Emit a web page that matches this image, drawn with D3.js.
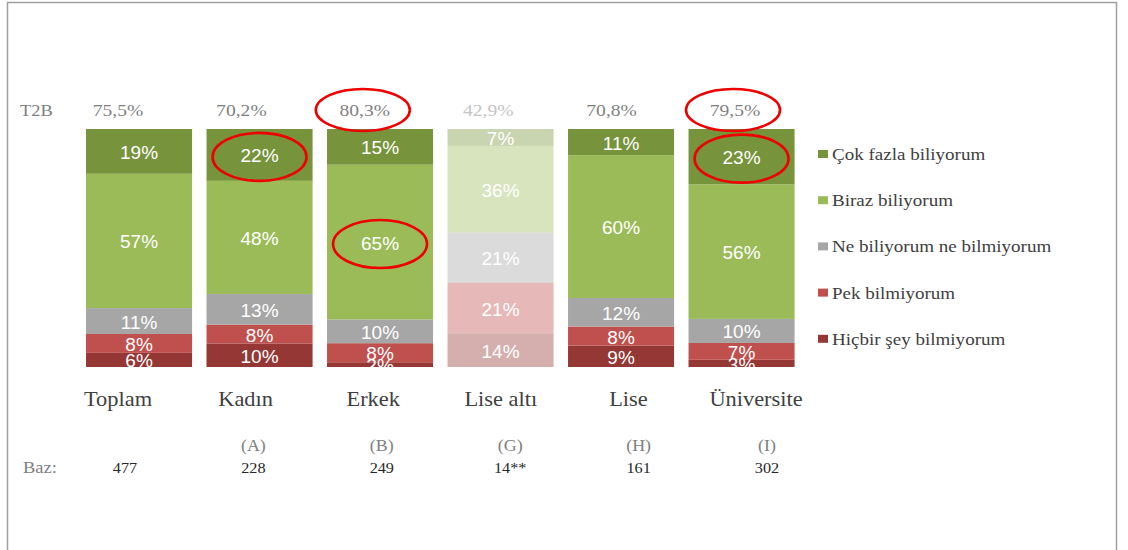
<!DOCTYPE html>
<html>
<head>
<meta charset="utf-8">
<script src="https://cdn.jsdelivr.net/npm/d3@7"></script>
<style>
  body { margin: 0; background: #fff; }
  svg { display: block; }
</style>
</head>
<body>
<svg width="1128" height="550"></svg>
<script>
// data
const categories = ['Toplam', 'Kadın', 'Erkek', 'Lise altı', 'Lise', 'Üniversite']
const groupLetters = ['', '(A)', '(B)', '(G)', '(H)', '(I)']
const baseCounts = [477, 228, 249, 14, 161, 302]
const t2b = [75.5, 70.2, 80.3, 42.9, 70.8, 79.5]

const seriesNames = ['Çok fazla biliyorum', 'Biraz biliyorum', 'Ne biliyorum ne bilmiyorum', 'Pek bilmiyorum', 'Hiçbir şey bilmiyorum']
const cokFazla = [19, 22, 15, 7, 11, 23]
const biraz = [57, 48, 65, 36, 60, 56]
const neNe = [11, 13, 10, 21, 12, 10]
const pek = [8, 8, 8, 21, 8, 7]
const hicbir = [6, 10, 2, 14, 9, 3]

// red hand-drawn circles: which labels got marked
const markedT2B = [2, 5]
const markedSegments = [[1, 'Çok fazla biliyorum'], [2, 'Biraz biliyorum'], [5, 'Çok fazla biliyorum']]

const lowBaseLimit = 30

var svg = d3.select('svg'),
  width = +svg.attr('width'),
  height = +svg.attr('height')

const serif = '"Liberation Serif", "Times New Roman", serif'
const sans = '"Liberation Sans", Arial, sans-serif'
const stretch = 1.12 // serif text in the picture is a bit wide

const colors = d3.scaleOrdinal()
  .domain(seriesNames)
  .range(['#77933c', '#9bbb59', '#a6a6a6', '#c0504d', '#953735'])

const valuesBySeries = [cokFazla, biraz, neNe, pek, hicbir]
const rows = categories.map((c, i) => {
  const row = {cat: c, i: i}
  const total = d3.sum(valuesBySeries, v => v[i])
  seriesNames.forEach((s, k) => { row[s] = valuesBySeries[k][i] / total; row['raw_' + s] = valuesBySeries[k][i] })
  return row
})

// stack bottom -> top
const stack = d3.stack().keys(seriesNames.slice().reverse())
const stacked = stack(rows)

var x = d3.scaleBand().domain(categories).range([78.8, 801.8]).paddingInner(0.12).paddingOuter(0.06)
var y = d3.scaleLinear().domain([0, 1]).range([367, 129])

// header and footer rows sit on their own grids
var xT2B = d3.scalePoint().domain(categories).range([118, 735])
var xCat = d3.scalePoint().domain(categories).range([118, 756])
var xBase = d3.scalePoint().domain(categories).range([125, 767])

// frame
svg.append('rect')
  .attr('x', 7.5).attr('y', 2.5)
  .attr('width', 1109).attr('height', 560)
  .attr('fill', 'none')
  .attr('stroke', '#a0a0a0')
  .attr('stroke-width', 1.5)

function serifText (g, px, py, txt, size, fill, anchor) {
  return g.append('text')
    .attr('transform', 'translate(' + px + ',' + py + ') scale(' + stretch + ',1)')
    .attr('text-anchor', anchor || 'middle')
    .attr('font-family', serif)
    .attr('font-size', size)
    .attr('fill', fill)
    .text(txt)
}

// T2B row
serifText(svg, 20, 116, 'T2B', 16.5, '#7f7f7f', 'start')
categories.forEach((c, i) => {
  const low = baseCounts[i] < lowBaseLimit
  serifText(svg, xT2B(c), 116, d3.format('.1f')(t2b[i]).replace('.', ',') + '%', 17.5, low ? '#c4c4c4' : '#7f7f7f')
})

// bars
const layer = svg.append('g').selectAll('g')
  .data(stacked)
  .enter().append('g')
  .attr('fill', d => colors(d.key))

layer.selectAll('rect')
  .data(d => d)
  .enter().append('rect')
  .attr('x', d => x(d.data.cat))
  .attr('y', d => y(d[1]))
  .attr('width', x.bandwidth())
  .attr('height', d => y(d[0]) - y(d[1]))
  .attr('opacity', d => baseCounts[d.data.i] < lowBaseLimit ? 0.4 : 1)

// segment labels
stacked.forEach(s => {
  svg.append('g').selectAll('text')
    .data(s)
    .enter().append('text')
    .attr('x', d => x(d.data.cat) + x.bandwidth() / 2)
    .attr('y', d => (y(d[0]) + y(d[1])) / 2 + 7.5)
    .attr('text-anchor', 'middle')
    .attr('font-family', sans)
    .attr('font-size', 19)
    .attr('fill', '#fff')
    .text(d => d.data['raw_' + s.key] + '%')
})

// category names
categories.forEach(c => serifText(svg, xCat(c), 406, c, 20, '#404040'))

// base row
serifText(svg, 23, 473, 'Baz:', 16.5, '#7f7f7f', 'start')
categories.forEach((c, i) => {
  if (groupLetters[i]) serifText(svg, xBase(c), 451, groupLetters[i], 16, '#7f7f7f')
  serifText(svg, xBase(c), 473, baseCounts[i] + (baseCounts[i] < lowBaseLimit ? '**' : ''), 14.5, '#262626')
})

// legend
const legend = svg.append('g').selectAll('g')
  .data(seriesNames)
  .enter().append('g')
  .attr('transform', (d, i) => 'translate(818,' + (154 + i * 46.2) + ')')

legend.append('rect')
  .attr('x', 0).attr('y', -4)
  .attr('width', 10).attr('height', 8)
  .attr('fill', d => colors(d))

legend.each(function (d) {
  serifText(d3.select(this), 14, 6, d, 17, '#404040', 'start')
})

// red annotation ellipses
const ring = svg.append('g')
  .attr('fill', 'none')
  .attr('stroke', '#ee0000')
  .attr('stroke-width', 2.6)

markedT2B.forEach(i => {
  ring.append('ellipse')
    .attr('cx', xT2B(categories[i]) - 2)
    .attr('cy', 110)
    .attr('rx', 47).attr('ry', 21)
})

markedSegments.forEach(([i, key]) => {
  const s = stacked.find(l => l.key === key)[i]
  ring.append('ellipse')
    .attr('cx', x(categories[i]) + x.bandwidth() / 2)
    .attr('cy', (y(s[0]) + y(s[1])) / 2 + 2)
    .attr('rx', 47).attr('ry', 24)
})
</script>
</body>
</html>
